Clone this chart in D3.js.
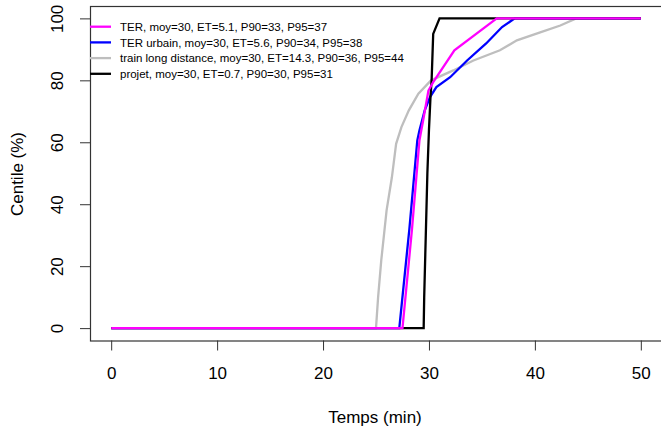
<!DOCTYPE html>
<html>
<head>
<meta charset="utf-8">
<script src="https://cdn.jsdelivr.net/npm/d3@7"></script>
<style>
  body { margin: 0; background: #fff; }
  text { font-family: "Liberation Sans", Arial, sans-serif; fill: #000; }
</style>
</head>
<body>
<div id="chart"></div>
<script>
// Data: time (min) vs centile (%) for each mode
var terTime     = [0, 27.5, 28.4, 29.1, 29.5, 29.95, 30.4, 32.4, 36.4, 50];
var terCentile  = [0, 0, 32, 60.6, 68, 76.7, 79.4, 89.7, 100, 100];

var urbTime     = [0, 27.2, 28.15, 28.9, 29.1, 29.6, 30.1, 30.7, 32.0, 33.6, 35.4, 36.9, 38.1, 50];
var urbCentile  = [0, 0, 32, 60.6, 63.8, 70.3, 74.6, 77.8, 81, 86.4, 91.9, 97.2, 100, 100];

var tldTime     = [0, 25.0, 25.2, 25.5, 26.0, 26.5, 26.9, 27.4, 28.1, 29.0, 30.2, 32.3, 34.2, 36.7, 38.3, 40.5, 42.4, 43.9, 50];
var tldCentile  = [0, 0, 10, 22, 38, 48.7, 59.5, 64.9, 70.3, 75.7, 80, 83.2, 86.4, 89.7, 92.9, 95.5, 97.7, 100, 100];

var projTime    = [0, 29.5, 29.55, 29.7, 29.85, 30.0, 30.15, 30.25, 30.4, 31.0, 50];
var projCentile = [0, 0, 10, 30, 50, 64, 75, 80, 95, 100, 100];

var seriesNames  = ["TER, moy=30, ET=5.1, P90=33, P95=37",
                    "TER urbain, moy=30, ET=5.6, P90=34, P95=38",
                    "train long distance, moy=30, ET=14.3, P90=36, P95=44",
                    "projet, moy=30, ET=0.7, P90=30, P95=31"];
var seriesColors = ["#ff00ff", "#0000ff", "#bebebe", "#000000"];

var xTicks = [0, 10, 20, 30, 40, 50];
var yTicks = [0, 20, 40, 60, 80, 100];

// chart area
var svgWidth = 661;
var svgHeight = 432;
var box = { left: 90, right: 662, top: 6, bottom: 340.5 };

var svg = d3.select("#chart")
    .append("svg")
    .attr("width", svgWidth)
    .attr("height", svgHeight);

// R style: usr range extends 4% beyond data
var xScale = d3.scaleLinear().domain([-2, 52]).range([box.left, box.right]);
var yScale = d3.scaleLinear().domain([-4, 104]).range([box.bottom, box.top]);

function toPoints(xs, ys) {
    return xs.map(function (x, i) { return [x, ys[i]]; });
}

var series = [
    { pts: toPoints(terTime, terCentile), color: seriesColors[0] },
    { pts: toPoints(urbTime, urbCentile), color: seriesColors[1] },
    { pts: toPoints(tldTime, tldCentile), color: seriesColors[2] },
    { pts: toPoints(projTime, projCentile), color: seriesColors[3] }
];

var line = d3.line()
    .x(d => xScale(d[0]))
    .y(d => yScale(d[1]));

// draw order: gray, blue, black, magenta on top
var drawOrder = [2, 1, 3, 0];
svg.append("g")
    .selectAll("path")
    .data(drawOrder.map(i => series[i]))
    .enter()
    .append("path")
    .attr("d", d => line(d.pts))
    .attr("fill", "none")
    .attr("stroke", d => d.color)
    .attr("stroke-width", 2.3)
    .attr("stroke-linejoin", "miter");

// box
svg.append("rect")
    .attr("x", box.left + 0.5)
    .attr("y", box.top + 0.5)
    .attr("width", box.right - box.left)
    .attr("height", box.bottom - box.top)
    .attr("fill", "none")
    .attr("stroke", "#333")
    .attr("stroke-width", 1.2);

// x axis
var xAxis = svg.append("g")
    .attr("transform", `translate(0, ${box.bottom})`)
    .call(d3.axisBottom(xScale).tickValues(xTicks).tickSize(10).tickPadding(16));
xAxis.select(".domain").remove();
xAxis.selectAll("line").attr("stroke", "#333");
xAxis.selectAll("text")
    .style("font-size", "17px")
    .style("font-family", "'Liberation Sans', Arial, sans-serif")
    .attr("fill", "#000");

// y axis, labels parallel to axis
var yAxis = svg.append("g")
    .attr("transform", `translate(${box.left}, 0)`)
    .call(d3.axisLeft(yScale).tickValues(yTicks).tickSize(10));
yAxis.select(".domain").remove();
yAxis.selectAll("line").attr("stroke", "#333");
yAxis.selectAll("text")
    .attr("x", 0)
    .attr("y", -27)
    .attr("dy", 0)
    .attr("transform", "rotate(-90)")
    .attr("text-anchor", "middle")
    .style("font-size", "17px")
    .style("font-family", "'Liberation Sans', Arial, sans-serif")
    .attr("fill", "#000");

// axis titles
svg.append("text")
    .attr("x", 375)
    .attr("y", 423)
    .attr("text-anchor", "middle")
    .style("font-size", "17px")
    .text("Temps (min)");

svg.append("text")
    .attr("transform", "translate(23, 174) rotate(-90)")
    .attr("text-anchor", "middle")
    .style("font-size", "17px")
    .text("Centile (%)");

// legend
var legend = svg.append("g")
    .selectAll("g")
    .data(seriesNames)
    .enter()
    .append("g")
    .attr("transform", (d, i) => `translate(0, ${26.7 + i * 15.7})`);

legend.append("line")
    .attr("x1", box.left)
    .attr("x2", 111)
    .attr("stroke", (d, i) => seriesColors[i])
    .attr("stroke-width", 2.3);

legend.append("text")
    .attr("x", 120)
    .attr("dy", "0.36em")
    .style("font-size", "11.5px")
    .attr("fill", "#222")
    .text(d => d);
</script>
</body>
</html>
